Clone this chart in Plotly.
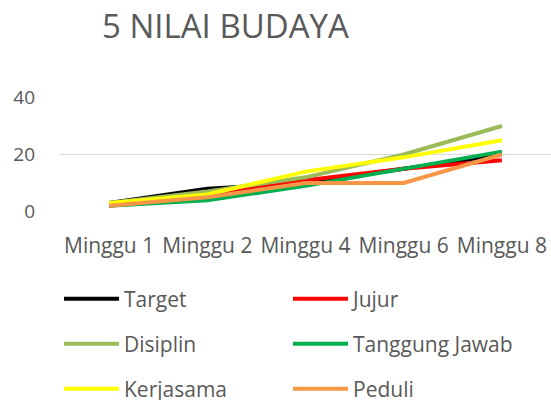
import plotly.graph_objects as go

categories = ["Minggu 1", "Minggu 2", "Minggu 4", "Minggu 6", "Minggu 8"]
target = [3, 8, 10, 15, 20]
jujur = [2, 6, 11, 15, 18]
disiplin = [3, 7, 12, 20, 30]
tanggung_jawab = [2, 4, 9, 15, 21]
kerjasama = [3, 6, 14, 19, 25]
peduli = [2, 5, 10, 10, 20]

series = [
    ("Target", target, "#000000", "legend"),
    ("Jujur", jujur, "#FF0000", "legend"),
    ("Disiplin", disiplin, "#9BBB59", "legend2"),
    ("Tanggung Jawab", tanggung_jawab, "#00B050", "legend2"),
    ("Kerjasama", kerjasama, "#FFFF00", "legend3"),
    ("Peduli", peduli, "#F79646", "legend3"),
]

FONT = "Open Sans"
GREY = "#595959"
fig = go.Figure()
for name, vals, color, lg in series:
    fig.add_trace(go.Scatter(x=categories, y=vals, name=name, mode="lines",
                             line=dict(color=color, width=4), legend=lg))

W, H = 551, 400
ml, mr, mt, mb = 60, 0, 97, 188

def leg(py):
    return dict(orientation="h", xref="container", yref="container",
                x=59 / W, xanchor="left", y=1 - py / H, yanchor="middle",
                entrywidth=159, entrywidthmode="pixels", itemwidth=55,
                font=dict(family=FONT, size=21, color=GREY),
                bgcolor="rgba(0,0,0,0)", traceorder="normal")

fig.update_layout(
    width=W, height=H,
    margin=dict(l=ml, r=mr, t=mt, b=mb, autoexpand=False),
    paper_bgcolor="white", plot_bgcolor="white",
    title=dict(text="5 NILAI BUDAYA", x=102 / W, xanchor="left", y=1 - 26 / H, yanchor="middle",
               font=dict(family=FONT, size=33, color=GREY)),
    xaxis=dict(range=[-0.5, 4.5], showgrid=False, showline=False, ticks="",
               ticklabelstandoff=19, tickfont=dict(family=FONT, size=21, color=GREY)),
    yaxis=dict(range=[-0.15, 40.15], tickvals=[0, 20, 40], showgrid=True, gridcolor="#D9D9D9", gridwidth=1,
               zeroline=False, ticks="", ticklabelstandoff=24,
               tickfont=dict(family=FONT, size=19, color=GREY)),
    legend=leg(299), legend2=leg(344), legend3=leg(389),
)
fig.write_html("out.html", config={"displayModeBar": False},
               post_script="document.body.style.margin='0';")
